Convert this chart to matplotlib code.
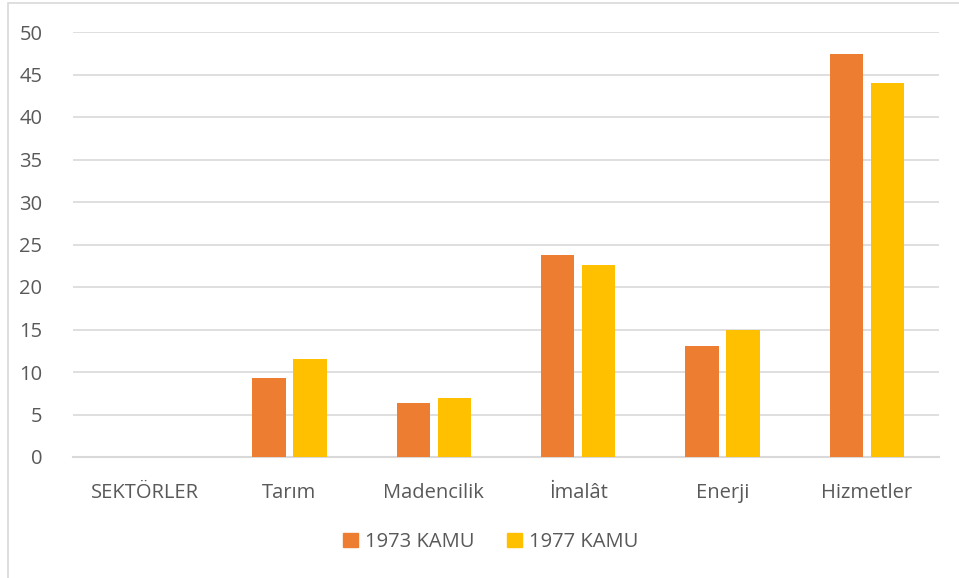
import numpy as np
import matplotlib.pyplot as plt
from matplotlib.patches import Rectangle, Patch

categories = ['SEKTÖRLER', 'Tarım', 'Madencilik', 'İmalât', 'Enerji', 'Hizmetler']
kamu_1973 = [0, 9.3, 6.3, 23.8, 13.1, 47.4]
kamu_1977 = [0, 11.5, 6.9, 22.6, 14.9, 44.0]
yticks = [0, 5, 10, 15, 20, 25, 30, 35, 40, 45, 50]

c73 = '#ed7d31'
c77 = '#ffc000'
txt = '#595959'
grid = '#d9d9d9'

plt.rcParams['font.family'] = ['Open Sans', 'DejaVu Sans']

fig = plt.figure(figsize=(9.59, 5.78), dpi=100)
W, H = 959, 578
ax = fig.add_axes([73 / W, (H - 457) / H, (939 - 73) / W, (457 - 32) / H])

x = np.arange(len(categories))
bw = 0.229
off = 0.142
ax.bar(x - off, kamu_1973, bw, color=c73, label='1973 KAMU', zorder=3)
ax.bar(x + off, kamu_1977, bw, color=c77, label='1977 KAMU', zorder=3)

ax.set_xlim(-0.5, len(categories) - 0.5)
ax.set_ylim(0, 50)
ax.set_yticks(yticks)
ax.set_xticks(x)
ax.set_xticklabels(categories)
ax.yaxis.grid(True, color=grid, linewidth=1.2, zorder=0)
ax.set_axisbelow(True)
for s in ['top', 'right', 'left']:
    ax.spines[s].set_visible(False)
ax.spines['bottom'].set_color(grid)
ax.spines['bottom'].set_linewidth(1.5)
ax.tick_params(axis='both', length=0, labelsize=14.5, colors=txt)
ax.tick_params(axis='y', pad=22)
ax.tick_params(axis='x', pad=19)

handles = [Patch(color=c73, label='1973 KAMU'), Patch(color=c77, label='1977 KAMU')]
fig.legend(handles=handles, loc='center', bbox_to_anchor=(491 / W, (H - 542) / H),
           ncol=2, frameon=False, fontsize=14.5, labelcolor=txt,
           handlelength=0.75, handleheight=0.75, columnspacing=1.6, handletextpad=0.35)

# chart border (only top and left visible in the crop)
fig.patches.append(Rectangle((8 / W, -0.1), 1.2, 1 - 3 / H + 0.1, transform=fig.transFigure,
                             fill=False, edgecolor=grid, linewidth=1.2))

fig.savefig('out.png', dpi=100)
